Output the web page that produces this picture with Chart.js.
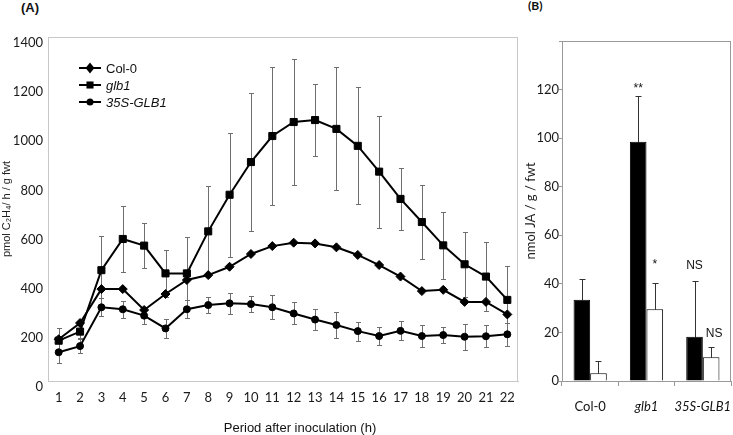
<!DOCTYPE html>
<html>
<head>
<meta charset="utf-8">
<script src="https://cdn.jsdelivr.net/npm/chart.js@4.4.1/dist/chart.umd.min.js"></script>
<style>
  body { margin: 0; background: #fff; }
  #page { position: relative; width: 733px; height: 435px; overflow: hidden; }
  #chartA { position: absolute; left: 0; top: 0; }
  #chartB { position: absolute; left: 520px; top: 0; }
  .panel { position: absolute; font-weight: bold; color: #111; }
  #labA { left: 21px; top: 0; font: bold 13px/15px "Liberation Sans", Arial, sans-serif; }
  #labB { left: 528px; top: 0; font: bold 12px/12px Lato, sans-serif; }
</style>
</head>
<body>
<div id="page">
  <div class="panel" id="labA">(A)</div>
  <div class="panel" id="labB">(B)</div>
  <canvas id="chartA" width="525" height="435"></canvas>
  <canvas id="chartB" width="213" height="435"></canvas>
</div>
<script>
// (A) ethylene emission per hour after inoculation
const hours = ['1','2','3','4','5','6','7','8','9','10','11','12','13','14','15','16','17','18','19','20','21','22'];
const col0 = [170, 236, 374, 374, 289, 354, 411, 431, 465, 517, 549, 563, 560, 544, 513, 472, 425, 366, 371, 322, 322, 271];
const glb1 = [164, 201, 451, 578, 551, 438, 438, 609, 758, 891, 997, 1054, 1062, 1026, 957, 852, 741, 647, 552, 475, 425, 330];
const glb1Err = [50, 25, 140, 133, 92, 95, 149, 185, 253, 281, 280, 257, 146, 250, 238, 228, 125, 150, 135, 132, 139, 137];
const gl35S = [117, 142, 300, 292, 266, 214, 292, 309, 316, 313, 300, 275, 250, 228, 203, 183, 204, 183, 187, 180, 182, 190];
const gl35SErr = [45, 29, 36, 35, 35, 38, 37, 33, 44, 33, 48, 45, 42, 53, 39, 35, 39, 44, 32, 53, 45, 46];
const yTicksA = [0, 200, 400, 600, 800, 1000, 1200, 1400];

// (B) JA content
const lines = ['Col-0', 'glb1', '35S-GLB1'];
const jaBlack = [33.5, 98.5, 18.2];
const jaBlackErr = [8.5, 19, 23];
const jaWhite = [3.2, 29.5, 9.8];
const jaWhiteErr = [5, 11, 4];
const sigBlack = ['', '**', 'NS'];
const sigBlackAt = [null, 119, 46];
const sigWhite = ['', '*', 'NS'];
const sigWhiteAt = [null, 46.5, 18];

const tickFont = { family: 'Lato', size: 13 };

// error bars, drawn with the y scale of the chart
function errorBars(color, cap, upOnly) {
  return {
    id: 'errorBars',
    beforeDatasetsDraw(chart) {
      const ctx = chart.ctx;
      const ys = chart.scales.y;
      chart.data.datasets.forEach((ds, i) => {
        if (!ds.errors) return;
        const meta = chart.getDatasetMeta(i);
        ctx.save();
        ctx.strokeStyle = color;
        ctx.lineWidth = 1;
        meta.data.forEach((el, j) => {
          const e = ds.errors[j];
          if (e == null) return;
          const v = ds.data[j];
          const x = Math.round(el.x) + 0.5;
          const top = Math.round(ys.getPixelForValue(v + e)) + 0.5;
          const bot = Math.round(ys.getPixelForValue(upOnly ? v : v - e)) + 0.5;
          ctx.beginPath();
          ctx.moveTo(x, bot);
          ctx.lineTo(x, top);
          ctx.moveTo(x - cap, top);
          ctx.lineTo(x + cap, top);
          if (!upOnly) {
            ctx.moveTo(x - cap, bot);
            ctx.lineTo(x + cap, bot);
          }
          ctx.stroke();
        });
        ctx.restore();
      });
    }
  };
}

// frame round the plot area
function frame(color) {
  return {
    id: 'frame',
    afterDraw(chart) {
      const a = chart.chartArea, ctx = chart.ctx;
      ctx.save();
      ctx.strokeStyle = color;
      ctx.lineWidth = 1;
      ctx.strokeRect(Math.round(a.left) + 0.5, Math.round(a.top) + 0.5,
                     Math.round(a.right - a.left) - 1, Math.round(a.bottom - a.top));
      ctx.restore();
    }
  };
}

function marker(ctx, style, x, y, r) {
  ctx.beginPath();
  if (style === 'rect') {
    const s = r * Math.SQRT1_2;
    ctx.rect(x - s, y - s, 2 * s, 2 * s);
  } else if (style === 'rectRot') {
    ctx.moveTo(x, y - r); ctx.lineTo(x + r * 0.8, y);
    ctx.lineTo(x, y + r); ctx.lineTo(x - r * 0.8, y);
    ctx.closePath();
  } else {
    ctx.arc(x, y, r, 0, Math.PI * 2);
  }
  ctx.fill();
}

// legend inside the plot area and the x title of (A)
const legendA = {
  id: 'legendA',
  afterDraw(chart) {
    const ctx = chart.ctx, a = chart.chartArea;
    const x0 = a.left + 31, y0 = a.top + 31;
    chart.data.datasets.forEach((ds, i) => {
      const y = y0 + i * 17;
      ctx.save();
      ctx.strokeStyle = '#000';
      ctx.fillStyle = '#000';
      ctx.lineWidth = 2;
      ctx.beginPath();
      ctx.moveTo(x0, y);
      ctx.lineTo(x0 + 22, y);
      ctx.stroke();
      marker(ctx, ds.pointStyle, x0 + 11, y, ds.pointStyle === 'rectRot' ? 5.5 : ds.pointRadius);
      ctx.font = (ds.italic ? 'italic ' : '') + '13px "Liberation Sans", Arial, sans-serif';
      ctx.textBaseline = 'middle';
      ctx.fillStyle = '#111';
      ctx.fillText(ds.label, x0 + 27, y + 1);
      ctx.restore();
    });
    ctx.save();
    ctx.font = '13px "Liberation Sans", Arial, sans-serif';
    ctx.fillStyle = '#111';
    ctx.textAlign = 'center';
    ctx.textBaseline = 'middle';
    ctx.fillText('Period after inoculation (h)', (a.left + a.right) / 2 + 17, 428);
    ctx.restore();
  }
};

const lineDataset = (label, data, style, radius, italic, errors) => ({
  label, data, errors, italic,
  borderColor: '#000',
  backgroundColor: '#000',
  borderWidth: 2,
  pointStyle: style,
  pointRadius: radius,
  pointBorderWidth: 1,
  pointBackgroundColor: '#000',
  pointBorderColor: '#000',
  tension: 0,
  fill: false
});

new Chart(document.getElementById('chartA'), {
  type: 'line',
  data: {
    labels: hours,
    datasets: [
      lineDataset('Col-0', col0, 'rectRot', 4.5, false, null),
      lineDataset('glb1', glb1, 'rect', 5, true, glb1Err),
      lineDataset('35S-GLB1', gl35S, 'circle', 3.5, true, gl35SErr)
    ]
  },
  options: {
    responsive: false,
    animation: false,
    layout: { padding: { top: 37, right: 7, left: 0, bottom: 0 } },
    plugins: { legend: { display: false }, tooltip: { enabled: false } },
    scales: {
      x: {
        type: 'category',
        offset: true,
        grid: { display: false, drawTicks: false },
        border: { color: '#c8c8c8' },
        ticks: { font: tickFont, color: '#1a1a1a', padding: 9, autoSkip: false, maxRotation: 0 },
        afterFit: s => { s.height = 54; s.paddingLeft = 0; s.paddingRight = 0; }
      },
      y: {
        min: 0,
        max: 1400,
        afterBuildTicks: s => { s.ticks = yTicksA.map(v => ({ value: v })); },
        grid: { display: false, drawTicks: false },
        border: { color: '#c8c8c8' },
        ticks: { font: tickFont, color: '#1a1a1a', padding: 5, labelOffset: 6, callback: v => String(v) },
        title: {
          display: true,
          text: 'pmol C₂H₄/ h / g fwt',
          font: { family: 'Liberation Sans', size: 11 },
          color: '#222',
          padding: 0
        },
        afterFit: s => { s.width = 48; }
      }
    }
  },
  plugins: [errorBars('#6e6e6e', 2.5, false), frame('#c8c8c8'), legendA]
});

// significance marks above the bars of (B)
const sigMarks = {
  id: 'sigMarks',
  afterDatasetsDraw(chart) {
    const ctx = chart.ctx, ys = chart.scales.y;
    const sets = [[sigBlack, sigBlackAt], [sigWhite, sigWhiteAt]];
    ctx.save();
    ctx.font = '12px "Liberation Sans", Arial, sans-serif';
    ctx.fillStyle = '#111';
    ctx.textAlign = 'center';
    ctx.textBaseline = 'alphabetic';
    sets.forEach(([texts, at], i) => {
      const meta = chart.getDatasetMeta(i);
      texts.forEach((t, j) => {
        if (!t) return;
        ctx.fillText(t, meta.data[j].x + (i === 1 && t === 'NS' ? 3 : 0), ys.getPixelForValue(at[j]));
      });
    });
    ctx.restore();
  }
};

new Chart(document.getElementById('chartB'), {
  type: 'bar',
  data: {
    labels: lines,
    datasets: [
      { data: jaBlack, errors: jaBlackErr, backgroundColor: '#000', borderColor: '#000', borderWidth: 1 },
      { data: jaWhite, errors: jaWhiteErr, backgroundColor: '#fff', borderColor: '#000', borderWidth: 1 }
    ]
  },
  options: {
    responsive: false,
    animation: false,
    barPercentage: 1,
    categoryPercentage: 0.59,
    layout: { padding: { top: 41, right: 2, left: 0, bottom: 0 } },
    plugins: { legend: { display: false }, tooltip: { enabled: false } },
    scales: {
      x: {
        grid: { drawOnChartArea: false, drawTicks: true, tickLength: 5, offset: true, color: '#999' },
        border: { color: '#999' },
        ticks: {
          color: '#111',
          padding: 13,
          autoSkip: false,
          maxRotation: 0,
          minRotation: 0,
          font: c => ({ family: 'Lato', size: 13, style: c.index > 0 ? 'italic' : 'normal' })
        },
        afterFit: s => { s.height = 54; s.paddingLeft = 0; s.paddingRight = 0; }
      },
      y: {
        min: 0,
        max: 140,
        ticks: {
          stepSize: 20,
          font: tickFont,
          color: '#1a1a1a',
          padding: 0,
          callback: v => (v === 140 ? '' : String(v))
        },
        grid: { drawOnChartArea: false, drawTicks: true, tickLength: 3, color: '#999' },
        border: { color: '#999' },
        title: {
          display: true,
          text: 'nmol JA / g / fwt',
          font: { family: 'Lato', size: 13 },
          color: '#222',
          padding: { top: 3, bottom: 0 }
        },
        afterFit: s => { s.width = 42; }
      }
    }
  },
  plugins: [errorBars('#333', 3, true), frame('#999'), sigMarks]
});
</script>
</body>
</html>
